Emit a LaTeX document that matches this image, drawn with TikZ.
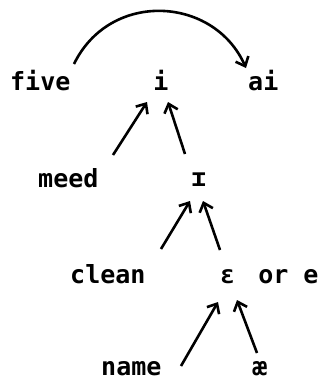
\documentclass[tikz,border=0pt]{standalone}
\usepackage{fontspec}
\setmonofont{DejaVu Sans Mono}
\usetikzlibrary{arrows.meta}
\tikzset{
  lbl/.style={inner sep=0pt, font=\ttfamily\bfseries\fontsize{25}{28}\selectfont},
  arr/.style={line width=2.6pt, -{Straight Barb[length=8pt,width=14pt,line width=2.6pt]}},
}
\begin{document}
\begin{tikzpicture}[x=1pt,y=-1pt]
\useasboundingbox (0,0) rectangle (330,381);
\node[lbl, anchor=base west] (five) at (10,90) {five};
\node[lbl, anchor=base] (i) at (161,90) {i};
\node[lbl, anchor=base west] (ai) at (248,90) {ai};
\node[lbl, anchor=base west] (meed) at (38,187) {meed};
\node[lbl, anchor=base] (I) at (199,186) {ɪ};
\node[lbl, anchor=base west] (clean) at (70,283) {clean};
\node[lbl, anchor=base west] (eps) at (220,283) {ɛ\hspace{8pt} or e};
\node[lbl, anchor=base west] (name) at (101,375) {name};
\node[lbl, anchor=base] (ae) at (260,375) {æ};

\draw[arr] ([shift={(64,-26)}]five.base west) .. controls ([shift={(100,-5)}]five.base west|-0,-5) and ([shift={(-34,-2)}]ai.base west|-0,-2) .. ([shift={(-2,-22)}]ai.base west);
\draw[arr] ([shift={(75,-32)}]meed.base west) -- ([shift={(-14,12)}]i.base);
\draw[arr] ([shift={(-14,-32)}]I.base) -- ([shift={(7,12)}]i.base);
\draw[arr] ([shift={(91,-34)}]clean.base west) -- ([shift={(-9,15)}]I.base);
\draw[arr] ([shift={(0,-33)}]eps.base west) -- ([shift={(4,15)}]I.base);
\draw[arr] ([shift={(80,-9)}]name.base west) -- ([shift={(-2,19)}]eps.base west);
\draw[arr] ([shift={(-3,-22)}]ae.base) -- ([shift={(17,17)}]eps.base west);
\end{tikzpicture}
\end{document}
